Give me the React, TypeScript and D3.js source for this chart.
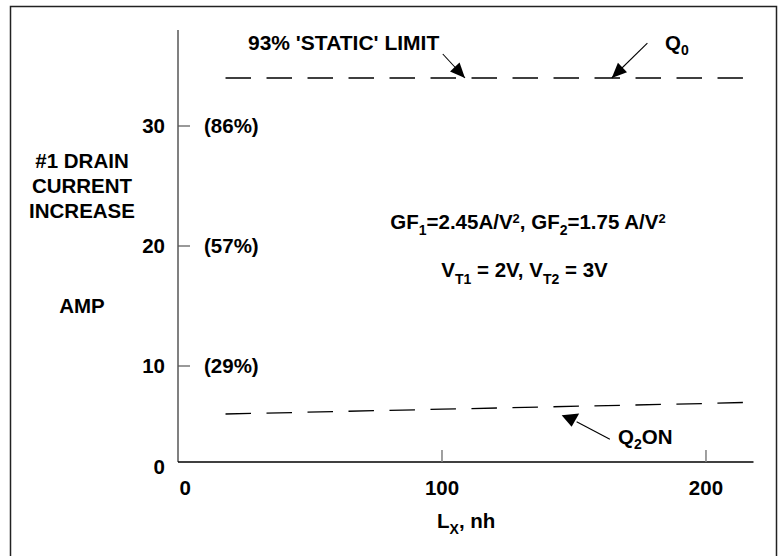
import React from "react";
import * as d3 from "d3";

// ---- data ----
const xTicks = [0, 100, 200];
const xTickLabels = ["0", "100", "200"];
const yTicks = [0, 10, 20, 30];
const yTickLabels = ["0", "10", "20", "30"];
const yPctLabels = ["", "(29%)", "(57%)", "(86%)"];

// 93% 'STATIC' LIMIT (Q0) dashed line
const staticX = [18, 214];
const staticY = [34, 34];
// Q2 ON dashed line
const q2X = [18, 100, 200, 214];
const q2Y = [5.0, 5.5, 6.1, 6.2];

// annotation arrows (data units)
const arrowFromX = [100.3, 177.8, 163.6];
const arrowFromY = [36.0, 36.9, 2.36];
const arrowToX = [108.7, 164.3, 151.0];
const arrowToY = [34.0, 34.0, 4.2];
const headTipX = [108.7, 164.3, 149.1];
const headTipY = [34.0, 34.0, 3.68];

const W = 781;
const H = 556;
const FONT = "'Liberation Sans', Arial, Helvetica, sans-serif";

export default function App() {
  const x = d3.scaleLinear().domain([0, 218]).range([178, 753.5]);
  const y = d3.scaleLinear().domain([0, 10, 20, 30]).range([462, 366, 246, 126]);

  const line = d3
    .line<[number, number]>()
    .x((d) => x(d[0]))
    .y((d) => y(d[1]));

  const staticPts = staticX.map((v, i) => [v, staticY[i]] as [number, number]);
  const q2Pts = q2X.map((v, i) => [v, q2Y[i]] as [number, number]);

  const heads = headTipX.map((tx, i) => {
    const px = x(tx);
    const py = y(headTipY[i]);
    let ang: number;
    let L = 15;
    let w = 6.5;
    if (i === 2) {
      ang = (84.5 * Math.PI) / 180;
      L = 12.4;
      w = 8.8;
    } else {
      ang = Math.atan2(y(arrowToY[i]) - y(arrowFromY[i]), x(arrowToX[i]) - x(arrowFromX[i]));
    }
    const bx = px - L * Math.cos(ang);
    const by = py - L * Math.sin(ang);
    const nx = -Math.sin(ang) * w;
    const ny = Math.cos(ang) * w;
    return `${px},${py} ${bx + nx},${by + ny} ${bx - nx},${by - ny}`;
  });

  const txt = {
    fontFamily: FONT,
    fontWeight: "bold" as const,
    fontSize: 20.5,
    fill: "#000",
  };

  return (
    <svg
      width={W}
      height={H}
      style={{ position: "absolute", left: 0, top: 0, background: "#fff" }}
    >
      <rect x={0} y={0} width={W} height={H} fill="#fff" />
      {/* frame */}
      <path d={`M10.5,${H + 5} V6.5 H776.5 V${H + 5}`} fill="none" stroke="#222" strokeWidth={1.5} />

      {/* axes */}
      <line x1={x(0)} x2={x(0)} y1={y(0)} y2={y(38)} stroke="#808080" strokeWidth={2} />
      <line x1={x(0)} x2={x(218)} y1={y(0)} y2={y(0)} stroke="#000" strokeWidth={1.5} />
      {yTicks
        .filter((v) => v > 0)
        .map((v) => (
          <line key={"yt" + v} x1={x(0)} x2={x(0) + 12} y1={y(v)} y2={y(v)} stroke="#555" strokeWidth={1.2} />
        ))}
      {xTicks
        .filter((v) => v > 0)
        .map((v) => (
          <line key={"xt" + v} x1={x(v)} x2={x(v)} y1={y(0)} y2={y(0) - 12} stroke="#808080" strokeWidth={1.5} />
        ))}
      {yTicks.map((v, i) => (
        <text key={"yl" + v} x={x(0) - 13} y={y(v) + (v === 0 ? 12 : 7.3)} textAnchor="end" {...txt}>
          {yTickLabels[i]}
        </text>
      ))}
      {yTicks.map((v, i) =>
        yPctLabels[i] ? (
          <text key={"yp" + v} x={x(0) + 26} y={y(v) + 7.3} {...txt}>
            {yPctLabels[i]}
          </text>
        ) : null
      )}
      {xTicks.map((v, i) => (
        <text
          key={"xl" + v}
          x={v === 0 ? x(v) + 1.5 : x(v)}
          y={495}
          textAnchor={v === 0 ? "start" : "middle"}
          {...txt}
        >
          {xTickLabels[i]}
        </text>
      ))}

      {/* axis titles */}
      <text x={82} y={167.5} textAnchor="middle" {...txt}>#1 DRAIN</text>
      <text x={82} y={192.5} textAnchor="middle" {...txt}>CURRENT</text>
      <text x={82} y={217.5} textAnchor="middle" {...txt}>INCREASE</text>
      <text x={82} y={313} textAnchor="middle" {...txt}>AMP</text>
      <text x={437} y={528} {...txt}>
        L<tspan fontSize={14} dy={6}>X</tspan>
        <tspan dy={-6}>, nh</tspan>
      </text>

      {/* series */}
      <path d={line(staticPts) || ""} fill="none" stroke="#000" strokeWidth={1.3} strokeDasharray="25.5 15.5" />
      <path d={line(q2Pts) || ""} fill="none" stroke="#000" strokeWidth={1.3} strokeDasharray="25.5 15.5" />

      {/* arrows */}
      {arrowFromX.map((fx, i) => (
        <line
          key={"al" + i}
          x1={x(fx)}
          y1={y(arrowFromY[i])}
          x2={x(arrowToX[i])}
          y2={y(arrowToY[i])}
          stroke="#000"
          strokeWidth={1.1}
        />
      ))}
      {heads.map((p, i) => (
        <polygon key={"ah" + i} points={p} fill="#000" />
      ))}

      {/* annotations */}
      <text x={248} y={50} {...txt} fontSize={21}>93% 'STATIC' LIMIT</text>
      <text x={665} y={50} {...txt}>
        Q<tspan fontSize={14} dy={5}>0</tspan>
      </text>
      <text x={618} y={444} {...txt}>
        Q<tspan fontSize={14} dy={5}>2</tspan>
        <tspan dy={-5}>ON</tspan>
      </text>
      <text x={528} y={228.5} textAnchor="middle" {...txt}>
        GF<tspan fontSize={14} dy={6}>1</tspan>
        <tspan dy={-6}>=2.45A/V</tspan>
        <tspan fontSize={13} dy={-6}>2</tspan>
        <tspan dy={6}>, GF</tspan>
        <tspan fontSize={14} dy={6}>2</tspan>
        <tspan dy={-6}>=1.75 A/V</tspan>
        <tspan fontSize={13} dy={-6}>2</tspan>
      </text>
      <text x={524.5} y={277.3} textAnchor="middle" {...txt}>
        V<tspan fontSize={14} dy={6.5}>T1</tspan>
        <tspan dy={-6.5}> = 2V, V</tspan>
        <tspan fontSize={14} dy={6.5}>T2</tspan>
        <tspan dy={-6.5}> = 3V</tspan>
      </text>
    </svg>
  );
}
